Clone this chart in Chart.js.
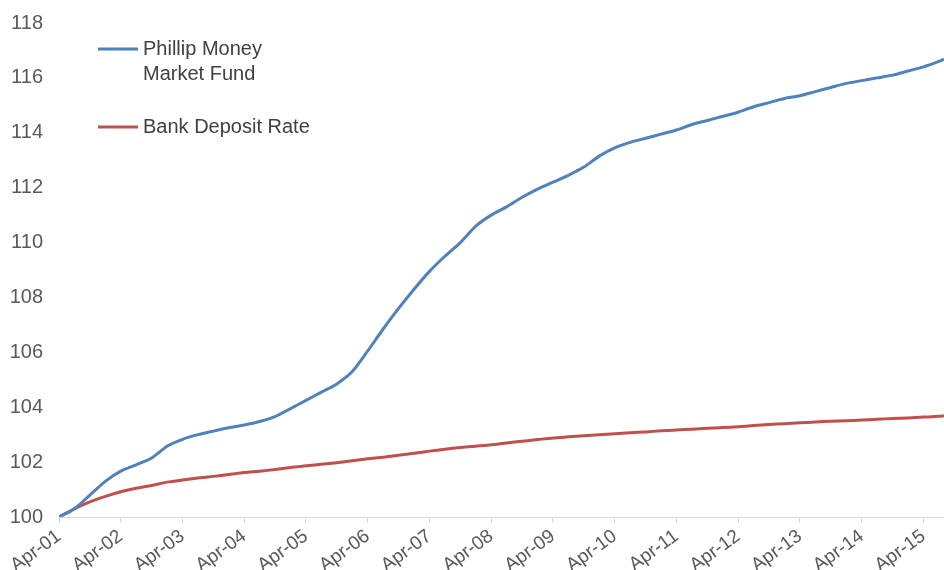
<!DOCTYPE html>
<html>
<head>
<meta charset="utf-8">
<script src="https://cdn.jsdelivr.net/npm/chart.js@4"></script>
<style>
  html, body { margin: 0; padding: 0; background: #fff; }
  #wrap { width: 944px; height: 570px; }
</style>
</head>
<body>
<div id="wrap"><canvas id="chart"></canvas></div>
<script>
// months since Apr-01, one point per quarter, last point Aug-15
const monthOffsets = [];
for (let m = 0; m <= 171; m += 3) monthOffsets.push(m);
monthOffsets.push(172);

const fundLabel = 'Phillip Money Market Fund';
const fundValues = [
  100.0, 100.3, 100.8, 101.3, 101.67, 101.9, 102.15, 102.58,
  102.83, 103.0, 103.13, 103.25, 103.35, 103.48, 103.66, 103.95,
  104.25, 104.55, 104.85, 105.3, 106.05, 106.85, 107.6, 108.3,
  108.95, 109.5, 110.0, 110.6, 111.0, 111.3, 111.65, 111.95,
  112.2, 112.45, 112.75, 113.15, 113.45, 113.65, 113.8, 113.95,
  114.1, 114.3, 114.45, 114.6, 114.75, 114.95, 115.1, 115.25,
  115.35, 115.5, 115.65, 115.8, 115.9, 116.0, 116.1, 116.25,
  116.4, 116.6, 116.68
];

const depositLabel = 'Bank Deposit Rate';
const depositValues = [
  100.0, 100.3, 100.55, 100.75, 100.92, 101.05, 101.15, 101.27,
  101.35, 101.42, 101.48, 101.55, 101.62, 101.67, 101.73, 101.8,
  101.87, 101.92, 101.98, 102.05, 102.12, 102.18, 102.25, 102.32,
  102.4, 102.47, 102.53, 102.58, 102.63, 102.7, 102.76, 102.82,
  102.88, 102.92, 102.96, 103.0, 103.03, 103.07, 103.1, 103.14,
  103.17, 103.2, 103.23, 103.26, 103.29, 103.33, 103.37, 103.4,
  103.43, 103.46, 103.49, 103.51, 103.53, 103.56, 103.59, 103.61,
  103.64, 103.67, 103.69
];

// x ticks: one per April
const tickYears = ['01','02','03','04','05','06','07','08','09','10','11','12','13','14','15'];
const yTicks = [100, 102, 104, 106, 108, 110, 112, 114, 116, 118];

const FONT = '"Liberation Sans", Arial, sans-serif';
const toPoints = vals => vals.map((v, i) => ({ x: monthOffsets[i] / 12, y: v }));

// legend drawn inside the plot, top-left, like the original
const insideLegend = {
  id: 'insideLegend',
  afterDraw(chart) {
    const ctx = chart.ctx;
    const left = chart.chartArea.left + 39;
    const rows = [
      { lines: ['Phillip Money', 'Market Fund'], y: 49 },
      { lines: [depositLabel], y: 127 }
    ];
    ctx.save();
    ctx.font = '20px ' + FONT;
    ctx.textBaseline = 'middle';
    rows.forEach((r, i) => {
      const ds = chart.data.datasets[i];
      ctx.strokeStyle = ds.borderColor;
      ctx.lineWidth = 3;
      ctx.beginPath();
      ctx.moveTo(left, r.y);
      ctx.lineTo(left + 40, r.y);
      ctx.stroke();
      ctx.fillStyle = '#404040';
      r.lines.forEach((t, j) => ctx.fillText(t, left + 45, r.y + j * 25));
    });
    ctx.restore();
  }
};

new Chart(document.getElementById('chart'), {
  type: 'line',
  data: {
    datasets: [
      {
        label: fundLabel,
        data: toPoints(fundValues),
        borderColor: '#4F81BD',
        borderWidth: 3,
        pointRadius: 0,
        tension: 0.25
      },
      {
        label: depositLabel,
        data: toPoints(depositValues),
        borderColor: '#C0504D',
        borderWidth: 3,
        pointRadius: 0,
        tension: 0.25
      }
    ]
  },
  options: {
    responsive: true,
    maintainAspectRatio: false,
    animation: false,
    layout: { padding: { top: 23, right: 0, left: 0, bottom: 0 } },
    plugins: {
      legend: { display: false },
      tooltip: { enabled: false }
    },
    scales: {
      x: {
        type: 'linear',
        min: 0,
        max: 172 / 12,
        border: { display: true, color: '#d9d9d9', width: 1 },
        grid: { display: true, drawOnChartArea: false, drawTicks: true, tickLength: 6, color: '#d9d9d9' },
        ticks: {
          stepSize: 1,
          includeBounds: false,
          autoSkip: false,
          maxRotation: 36,
          minRotation: 36,
          padding: 2,
          color: '#595959',
          font: { family: FONT, size: 19 },
          callback: v => Number.isInteger(v) ? 'Apr-' + tickYears[v] : ''
        },
        afterFit: s => { s.height = 53; }
      },
      y: {
        min: 100,
        max: 118,
        border: { display: false },
        grid: { display: true, drawOnChartArea: false, drawTicks: true, tickLength: 12, color: 'rgba(0,0,0,0)' },
        ticks: {
          stepSize: 2,
          padding: 4,
          color: '#595959',
          font: { family: FONT, size: 20 }
        },
        afterBuildTicks: s => { s.ticks = yTicks.map(v => ({ value: v })); },
        afterFit: s => { s.width = 59; }
      }
    }
  },
  plugins: [insideLegend]
});
</script>
</body>
</html>
